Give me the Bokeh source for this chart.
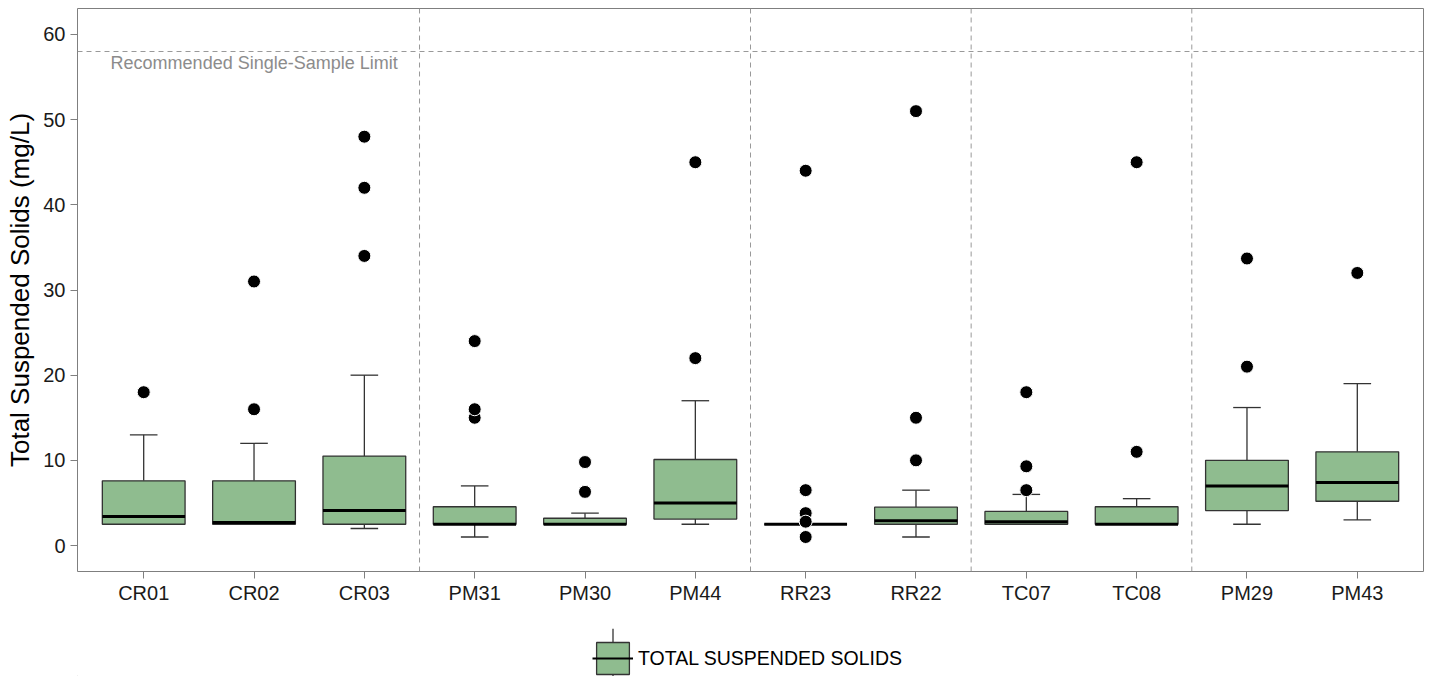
from bokeh.plotting import figure
from bokeh.layouts import column
from bokeh.models import (FactorRange, Range1d, ColumnDataSource, Span, Label,
                          Legend, LegendItem, FixedTicker)
from bokeh.transform import dodge
from bokeh.embed import file_html
from bokeh.resources import INLINE

# ---------------- data ----------------
sites = ["CR01", "CR02", "CR03", "PM31", "PM30", "PM44",
         "RR23", "RR22", "TC07", "TC08", "PM29", "PM43"]
groups = ["CR", "CR", "CR", "PM-A", "PM-A", "PM-A",
          "RR", "RR", "TC", "TC", "PM-B", "PM-B"]
lower_whisker = [2.5, 2.5, 2.0, 1.0, 2.5, 2.5, 2.5, 1.0, 2.5, 2.5, 2.5, 3.0]
q1 = [2.5, 2.5, 2.5, 2.5, 2.5, 3.1, 2.5, 2.5, 2.5, 2.5, 4.1, 5.2]
median = [3.4, 2.7, 4.1, 2.5, 2.5, 5.0, 2.5, 2.9, 2.8, 2.5, 7.0, 7.4]
q3 = [7.6, 7.6, 10.5, 4.55, 3.2, 10.1, 2.5, 4.5, 4.0, 4.55, 10.0, 11.0]
upper_whisker = [13.0, 12.0, 20.0, 7.0, 3.8, 17.0, 2.5, 6.5, 6.0, 5.5, 16.2, 19.0]

outlier_site = ["CR01",
                "CR02", "CR02",
                "CR03", "CR03", "CR03",
                "PM31", "PM31", "PM31",
                "PM30", "PM30",
                "PM44", "PM44",
                "RR23", "RR23", "RR23", "RR23", "RR23",
                "RR22", "RR22", "RR22",
                "TC07", "TC07", "TC07",
                "TC08", "TC08",
                "PM29", "PM29",
                "PM43"]
outlier_value = [18.0,
                 16.0, 31.0,
                 34.0, 42.0, 48.0,
                 15.0, 16.0, 24.0,
                 6.3, 9.8,
                 22.0, 45.0,
                 1.0, 6.5, 3.8, 2.8, 44.0,
                 10.0, 15.0, 51.0,
                 6.5, 9.3, 18.0,
                 11.0, 45.0,
                 21.0, 33.7,
                 32.0]

limit_value = 58.0
limit_text = "Recommended Single-Sample Limit"
y_label = "Total Suspended Solids (mg/L)"
legend_label = "TOTAL SUSPENDED SOLIDS"
y_ticks = [0, 10, 20, 30, 40, 50, 60]

# ---------------- styling / layout constants ----------------
FONT = "Liberation Sans"
FILL = "#8fbc8f"
EDGE = "#333333"
GREY = "#7f7f7f"
W = 1424
MAIN_H = 628
LEG_H = 48
BORDER_L = 77
BORDER_R = 1
FRAME_W = W - BORDER_L - BORDER_R
GLYPH_W = 41
GLYPH_H = 40
LEG_X = 515          # legend left edge, px from frame left
LEG_TOP = 10         # legend top, px from strip top

src = ColumnDataSource(dict(site=sites, lower=lower_whisker, q1=q1,
                            median=median, q3=q3, upper=upper_whisker))
out_src = ColumnDataSource(dict(site=outlier_site, value=outlier_value))

x_range = FactorRange(factors=sites, range_padding=0.1,
                      range_padding_units="absolute")
p = figure(x_range=x_range, y_range=Range1d(-3.05, 63.05),
           width=W, height=MAIN_H, output_backend="svg",
           toolbar_location=None,
           min_border_left=BORDER_L, min_border_right=BORDER_R,
           min_border_top=8, min_border_bottom=MAIN_H - 571)

p.background_fill_color = "white"
p.border_fill_color = "white"
p.outline_line_color = GREY
p.outline_line_width = 1
p.xgrid.grid_line_color = None
p.ygrid.grid_line_color = None

# group separators
for i in range(1, len(sites)):
    if groups[i] != groups[i - 1]:
        p.add_layout(Span(location=i, dimension="height", line_color="#999999",
                          line_dash="5 4", line_width=1))

# limit line
p.add_layout(Span(location=limit_value, dimension="width", line_color="#999999",
                  line_dash="5 4", line_width=1))
p.add_layout(Label(x=0.2, y=limit_value, text=limit_text,
                   text_color="#8c8c8c", text_font=FONT,
                   text_font_size="18px", text_baseline="top", y_offset=-1))

cap = 0.125
half = 0.375
# whiskers
p.segment(x0="site", y0="q3", x1="site", y1="upper", source=src,
          line_color=EDGE, line_width=1.3)
p.segment(x0="site", y0="q1", x1="site", y1="lower", source=src,
          line_color=EDGE, line_width=1.3)
p.segment(x0=dodge("site", -cap, range=x_range), y0="upper",
          x1=dodge("site", cap, range=x_range), y1="upper", source=src,
          line_color=EDGE, line_width=1.3)
p.segment(x0=dodge("site", -cap, range=x_range), y0="lower",
          x1=dodge("site", cap, range=x_range), y1="lower", source=src,
          line_color=EDGE, line_width=1.3)
# boxes
p.vbar(x="site", width=0.75, bottom="q1", top="q3", source=src,
       fill_color=FILL, line_color=EDGE, line_width=1.3)
p.segment(x0=dodge("site", -half, range=x_range), y0="median",
          x1=dodge("site", half, range=x_range), y1="median",
          source=src, line_color="black", line_width=3)
# outliers
p.scatter(x="site", y="value", source=out_src, size=13,
          fill_color="black", line_color="white", line_width=1)

# axes
for ax in (p.xaxis[0], p.yaxis[0]):
    ax.axis_line_color = None
    ax.major_tick_line_color = GREY
    ax.major_tick_out = 7
    ax.major_tick_in = 0
    ax.minor_tick_line_color = None
    ax.major_label_text_font = FONT
    ax.major_label_text_font_size = "20px"
    ax.major_label_text_color = "#1a1a1a"

p.xaxis.major_label_standoff = 3
p.yaxis.major_label_standoff = 5

p.yaxis.ticker = FixedTicker(ticks=y_ticks)
p.yaxis.axis_label = y_label
p.yaxis.axis_label_text_font = FONT
p.yaxis.axis_label_text_font_size = "26px"
p.yaxis.axis_label_text_font_style = "normal"
p.yaxis.axis_label_text_color = "black"
p.yaxis.axis_label_standoff = 5

# ---------------- legend strip ----------------
lg = figure(width=W, height=LEG_H, output_backend="svg", toolbar_location=None,
            x_range=Range1d(0, FRAME_W), y_range=Range1d(0, LEG_H),
            min_border_left=BORDER_L, min_border_right=BORDER_R,
            min_border_top=0, min_border_bottom=0)
lg.axis.visible = False
lg.grid.visible = False
lg.outline_line_color = None
lg.background_fill_color = "white"
lg.border_fill_color = "white"

# whisker stub of the key (drawn under the legend box)
stub_x = LEG_X + GLYPH_W / 2
lg.segment(x0=[stub_x], y0=[0], x1=[stub_x], y1=[LEG_H],
           line_color=EDGE, line_width=1.3)

# off-screen proxy renderers that give the legend its glyph styles
key_box = lg.vbar(x=[-100], top=[-90], bottom=[-100], width=1,
                  fill_color=FILL, line_color=EDGE, line_width=1.3)
key_med = lg.segment(x0=[-100], y0=[-100], x1=[-90], y1=[-100],
                     line_color="black", line_width=2)

legend = Legend(items=[LegendItem(label=legend_label, renderers=[key_box, key_med])],
                location=(LEG_X, LEG_H - LEG_TOP - GLYPH_H),
                orientation="horizontal",
                glyph_width=GLYPH_W, glyph_height=GLYPH_H, padding=0, margin=0,
                label_standoff=5, label_text_font=FONT,
                label_text_font_size="19.5px", label_text_color="black",
                border_line_color=None, background_fill_alpha=0)
lg.add_layout(legend)

layout = column(p, lg, spacing=0)
open("out.html", "w").write(file_html(layout, INLINE))
